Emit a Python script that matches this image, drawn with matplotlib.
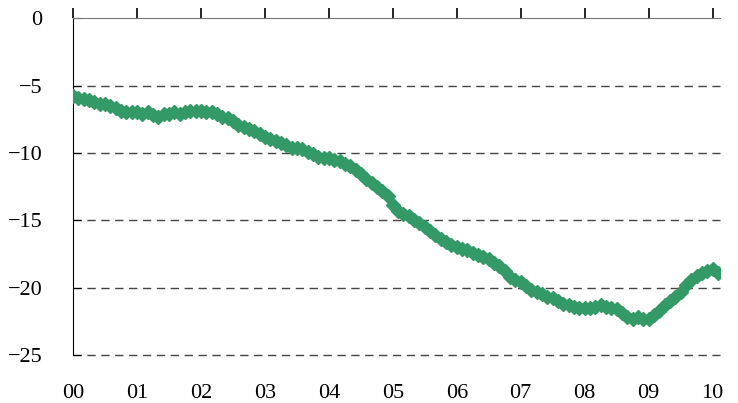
import numpy as np
import matplotlib.pyplot as plt

# monthly values, Jan 2000 -> Feb 2010
y2000 = [-5.8, -5.9, -6.0, -6.1, -6.2, -6.4, -6.4, -6.5, -6.7, -6.9, -7.0, -7.0]
y2001 = [-7.0, -7.1, -7.0, -7.2, -7.3, -7.1, -7.1, -7.0, -7.1, -7.0, -6.9, -6.9]
y2002 = [-6.9, -7.0, -7.0, -7.1, -7.3, -7.4, -7.6, -7.9, -8.1, -8.2, -8.4, -8.6]
y2003 = [-8.8, -9.0, -9.1, -9.3, -9.4, -9.6, -9.6, -9.7, -9.9, -10.1, -10.3, -10.4]
y2004 = [-10.4, -10.5, -10.6, -10.8, -11.0, -11.3, -11.6, -11.9, -12.2, -12.5, -12.8, -13.2]
y2005 = [-13.9, -14.3, -14.5, -14.7, -15.0, -15.2, -15.5, -15.8, -16.1, -16.4, -16.6, -16.8]
y2006 = [-17.0, -17.1, -17.2, -17.4, -17.6, -17.7, -17.9, -18.2, -18.4, -18.8, -19.2, -19.4]
y2007 = [-19.6, -19.9, -20.2, -20.3, -20.5, -20.7, -20.8, -21.0, -21.2, -21.3, -21.4, -21.5]
y2008 = [-21.5, -21.5, -21.4, -21.3, -21.4, -21.5, -21.6, -21.9, -22.2, -22.3, -22.2, -22.3]
y2009 = [-22.3, -22.0, -21.7, -21.3, -21.0, -20.7, -20.3, -19.8, -19.4, -19.1, -18.9, -18.8]
y2010 = [-18.6, -18.9]

values = y2000 + y2001 + y2002 + y2003 + y2004 + y2005 + y2006 + y2007 + y2008 + y2009 + y2010
year_labels = ["00", "01", "02", "03", "04", "05", "06", "07", "08", "09", "10"]

plt.rcParams['font.family'] = ['Liberation Serif', 'DejaVu Serif']

t = np.arange(len(values)) / 12.0

fig = plt.figure(figsize=(7.38, 4.03), dpi=100)
ax = fig.add_axes([0.099, 0.119, 0.877, 0.836])

ax.plot(t, values, color='#339966', lw=4, marker='D', ms=7.5, mec='#339966', zorder=3)

ax.set_xlim(0, 10.12)
ax.set_ylim(-25, 0)
ax.set_yticks([0, -5, -10, -15, -20, -25])
ax.set_xticks(range(len(year_labels)))
ax.set_xticklabels(year_labels)

for v in [-5, -10, -15, -20, -25]:
    ax.axhline(v, color='#444444', lw=1, ls=(0, (6, 4)), zorder=1, clip_on=False)

ax.spines['right'].set_visible(False)
ax.spines['bottom'].set_visible(False)
ax.spines['top'].set_color('#777777')
ax.spines['left'].set_color('black')

ax.tick_params(axis='x', top=True, bottom=False, labeltop=False, labelbottom=True,
               direction='out', length=7, width=1.2, color='black', pad=14, labelsize=16)
ax.tick_params(axis='y', direction='in', length=6, color='black', pad=22, labelsize=16)

fig.savefig('out.png', dpi=100)
